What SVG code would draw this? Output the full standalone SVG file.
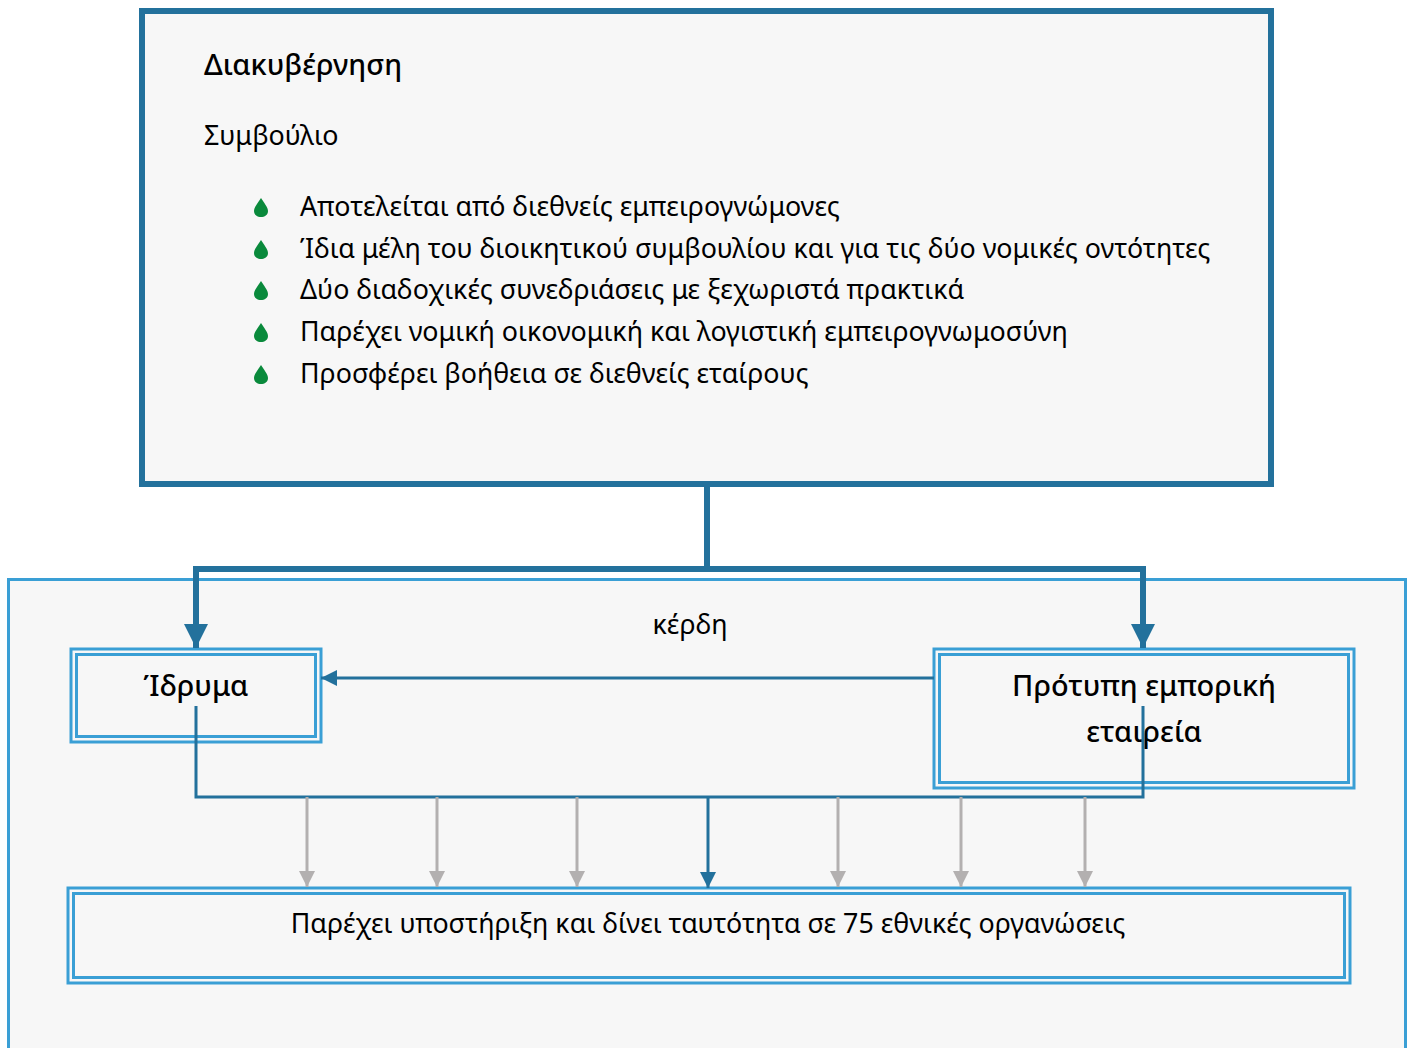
<svg xmlns="http://www.w3.org/2000/svg" width="1413" height="1048" viewBox="0 0 1413 1048">
  <defs>
    <style>
      text { font-family: "Noto Sans", "Open Sans", "DejaVu Sans", sans-serif; fill: #000; }
      .t26 { font-size: 26.8px; }
      .title { font-size: 28.9px; font-weight: 500; }
      .node { font-size: 28.9px; font-weight: 500; text-anchor: middle; }
      .frame { fill: #f7f7f7; stroke: #3a9fd5; stroke-width: 3; }
      .inner { fill: none; stroke: #3a9fd5; stroke-width: 3; }
      .bold-link { fill: none; stroke: #23719c; stroke-width: 6; }
      .link { fill: none; stroke: #23719c; stroke-width: 3; }
      .grey-link { fill: none; stroke: #b3b0b0; stroke-width: 3; }
    </style>
    <marker id="headBig" viewBox="0 0 10 10" refX="10" refY="5" markerUnits="userSpaceOnUse" markerWidth="24" markerHeight="24" orient="auto">
      <path d="M0,0 L10,5 L0,10 Z" fill="#23719c"/>
    </marker>
    <marker id="headBlue" viewBox="0 0 10 10" refX="10" refY="5" markerUnits="userSpaceOnUse" markerWidth="16" markerHeight="16" orient="auto">
      <path d="M0,0 L10,5 L0,10 Z" fill="#23719c"/>
    </marker>
    <marker id="headGrey" viewBox="0 0 10 10" refX="10" refY="5" markerUnits="userSpaceOnUse" markerWidth="16" markerHeight="16" orient="auto">
      <path d="M0,0 L10,5 L0,10 Z" fill="#b3b0b0"/>
    </marker>
    <path id="drop" d="M0,-9 C3,-4 7,0 7,4 C7,8 3.5,10 0,10 C-3.5,10 -7,8 -7,4 C-7,0 -3,-4 0,-9 Z" fill="#0a8a3c"/>
  </defs>

  <rect width="1413" height="1048" fill="#ffffff"/>

  <!-- outer container for the entities -->
  <g id="container">
    <rect class="frame" x="8.5" y="579.5" width="1397" height="480"/>
    <text class="t26" x="690" y="634" text-anchor="middle">κέρδη</text>
  </g>

  <!-- governance box -->
  <g id="governance">
    <rect x="142" y="11" width="1129" height="473" fill="#f7f7f7" stroke="#23719c" stroke-width="6"/>
    <text class="title" x="204" y="75">Διακυβέρνηση</text>
    <text class="t26" x="204" y="145">Συμβούλιο</text>
    <use href="#drop" x="261" y="207"/>
    <use href="#drop" x="261" y="249"/>
    <use href="#drop" x="261" y="290"/>
    <use href="#drop" x="261" y="332"/>
    <use href="#drop" x="261" y="374"/>
    <text class="t26" x="300" y="216">Αποτελείται από διεθνείς εμπειρογνώμονες</text>
    <text class="t26" x="300" y="258">Ίδια μέλη του διοικητικού συμβουλίου και για τις δύο νομικές οντότητες</text>
    <text class="t26" x="300" y="299">Δύο διαδοχικές συνεδριάσεις με ξεχωριστά πρακτικά</text>
    <text class="t26" x="300" y="341">Παρέχει νομική οικονομική και λογιστική εμπειρογνωμοσύνη</text>
    <text class="t26" x="300" y="383">Προσφέρει βοήθεια σε διεθνείς εταίρους</text>
  </g>

  <!-- foundation -->
  <g id="foundation">
    <rect class="frame" x="71" y="649" width="250" height="93"/>
    <rect class="inner" x="76.5" y="654.5" width="239" height="82"/>
    <text class="node" x="196" y="696">Ίδρυμα</text>
  </g>

  <!-- trading company -->
  <g id="company">
    <rect class="frame" x="934" y="649" width="420" height="139"/>
    <rect class="inner" x="939.5" y="654.5" width="409" height="128"/>
    <text class="node" x="1144" y="696">Πρότυπη εμπορική</text>
    <text class="node" x="1144" y="742">εταιρεία</text>
  </g>

  <!-- national organisations -->
  <g id="organisations">
    <rect class="frame" x="68" y="888" width="1282" height="95"/>
    <rect class="inner" x="73.5" y="893.5" width="1271" height="84"/>
    <text class="t26" x="708" y="933" text-anchor="middle">Παρέχει υποστήριξη και δίνει ταυτότητα σε 75 εθνικές οργανώσεις</text>
  </g>

  <!-- connectors -->
  <g id="connectors">
    <path class="bold-link" d="M707,484 V569 H196 V648" marker-end="url(#headBig)"/>
    <path class="bold-link" d="M707,569 H1143 V648" marker-end="url(#headBig)"/>
    <path class="link" d="M934,678 H321" marker-end="url(#headBlue)"/>
    <path class="link" d="M196,706 V797 H1143 V706"/>
    <path class="grey-link" d="M307,797 V887" marker-end="url(#headGrey)"/>
    <path class="grey-link" d="M437,797 V887" marker-end="url(#headGrey)"/>
    <path class="grey-link" d="M577,797 V887" marker-end="url(#headGrey)"/>
    <path class="link" d="M708,797 V888" marker-end="url(#headBlue)"/>
    <path class="grey-link" d="M838,797 V887" marker-end="url(#headGrey)"/>
    <path class="grey-link" d="M961,797 V887" marker-end="url(#headGrey)"/>
    <path class="grey-link" d="M1085,797 V887" marker-end="url(#headGrey)"/>
  </g>
</svg>
